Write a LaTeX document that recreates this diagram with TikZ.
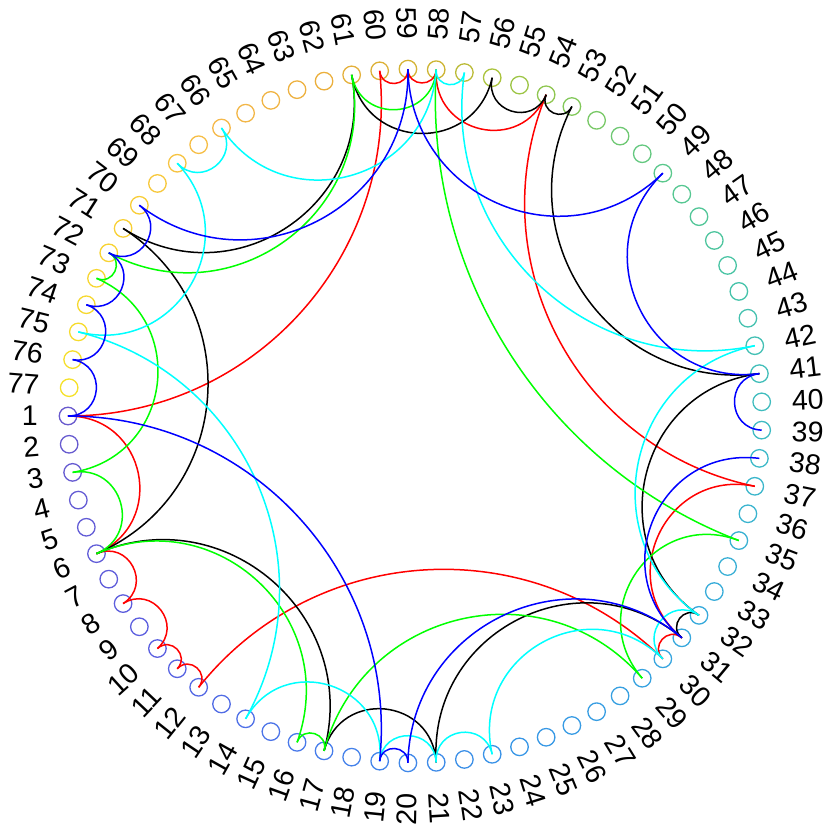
\documentclass[tikz,border=0pt]{standalone}
\usepackage{fontspec}
\setmainfont{Liberation Sans}
\usetikzlibrary{calc}
\definecolor{ecyan}{RGB}{0,255,255}
\definecolor{egreen}{RGB}{0,255,0}
\definecolor{ered}{RGB}{255,0,0}
\definecolor{eblue}{RGB}{0,0,255}
\newcommand{\cedge}[3]{%
  \pgfmathsetmacro{\edD}{abs(#3-#2)}%
  \pgfmathsetmacro{\edS}{min(\edD,77-\edD)}%
  \pgfmathsetmacro{\edA}{\edS*4.675325}%
  \pgfmathsetmacro{\edC}{4/3*tan((180-\edA)/4)*\Rad*tan(\edA/2)}%
  \draw[edge,#1] (n#2.center) .. controls ($(n#2.center)!\edC pt!(O)$) and ($(n#3.center)!\edC pt!(O)$) .. (n#3.center);%
}
\begin{document}
\begin{tikzpicture}[x=1pt,y=1pt,
  vtx/.style={circle, draw, line width=1.3pt, minimum size=17.5pt, inner sep=0pt},
  lbl/.style={inner sep=0pt, font=\fontsize{28.5}{30}\selectfont},
  edge/.style={line width=1.5pt}]
\pgfmathsetmacro{\Rad}{347}
\useasboundingbox (-415,-416) rectangle (415,416);
\coordinate (O) at (0,0);
% node colour anchors
\definecolor{a1}{RGB}{105,90,205}
\definecolor{a10}{RGB}{90,95,225}
\definecolor{a17}{RGB}{70,125,235}
\definecolor{a24}{RGB}{55,150,230}
\definecolor{a32}{RGB}{55,170,220}
\definecolor{a38}{RGB}{60,185,200}
\definecolor{a44}{RGB}{70,195,170}
\definecolor{a49}{RGB}{90,200,140}
\definecolor{a53}{RGB}{130,200,90}
\definecolor{a56}{RGB}{170,195,60}
\definecolor{a58}{RGB}{205,180,50}
\definecolor{a62}{RGB}{235,175,60}
\definecolor{a66}{RGB}{245,185,75}
\definecolor{a70}{RGB}{248,205,55}
\definecolor{a77}{RGB}{245,225,40}
\foreach \ka/\kb in {1/10,10/17,17/24,24/32,32/38,38/44,44/49,49/53,53/56,56/58,58/62,62/66,66/70,70/77}{
  \foreach \k in {\ka,...,\kb}{
    \pgfmathsetmacro{\pp}{100*(\kb-\k)/(\kb-\ka)}
    \xglobal\colorlet{c\k}{a\ka!\pp!a\kb}
  }
}
% vertices
\foreach \k in {1,...,77}{
  \pgfmathsetmacro{\th}{180+(\k-1)*4.675325}
  \node[vtx, draw=c\k] (n\k) at (\th:\Rad) {};
}
% labels
\foreach \k in {1,...,77}{
  \pgfmathsetmacro{\th}{mod(180+(\k-1)*4.675325,360)}
  \pgfmathtruncatemacro{\lft}{(\th>90)&&(\th<270)}
  \ifnum\lft=1
    \node[lbl, rotate=\th-180, anchor=east] (t\k) at (\th:377) {\k};
  \else
    \node[lbl, rotate=\th, anchor=west] (t\k) at (\th:377) {\k};
  \fi
}
% red
\foreach \i/\j in {1/60,60/59,59/58,58/54,54/37,37/31,31/30,30/12,12/11,11/10,10/8,8/6,6/1}{\cedge{ered}{\i}{\j}}
% black
\foreach \i/\j in {71/61,61/56,56/54,54/53,53/41,41/32,32/31,31/21,21/17,17/6,6/71}{\cedge{black}{\i}{\j}}
% green
\foreach \i/\j in {58/61,61/72,72/73,73/3,3/6,6/16,16/17,17/29,29/35,35/58}{\cedge{egreen}{\i}{\j}}
% cyan
\foreach \i/\j in {58/57,57/42,42/32,32/30,30/23,23/21,21/19,19/14,14/75,75/68,68/66,66/58}{\cedge{ecyan}{\i}{\j}}
% blue
\foreach \i/\j in {39/41,41/49,49/59,59/70,70/72,72/74,74/76,76/1,1/19,19/20,20/31,31/38}{\cedge{eblue}{\i}{\j}}
\end{tikzpicture}
\end{document}
